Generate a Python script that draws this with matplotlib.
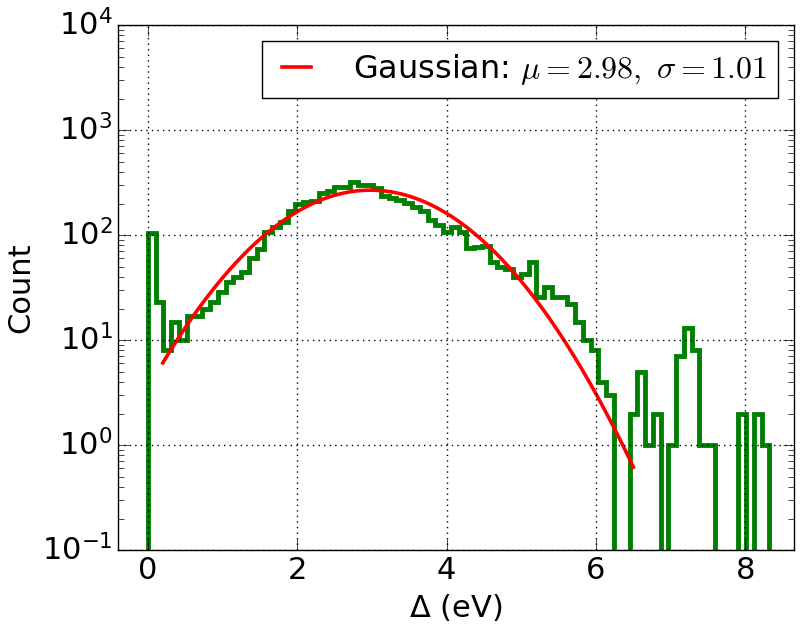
import numpy as np
import matplotlib
matplotlib.use("Agg")
import matplotlib.pyplot as plt

# Histogram data (80 bins from 0 to 8.32 eV)
bin_lo = 0.0
bin_hi = 8.32
counts = [105, 23, 8, 15, 10, 17, 17, 20, 23, 29,
          36, 40, 45, 60, 73, 107, 120, 134, 170, 198,
          205, 212, 250, 264, 285, 288, 320, 300, 302, 278,
          238, 228, 217, 204, 186, 170, 140, 125, 108, 120,
          108, 75, 77, 79, 56, 50, 48, 40, 43, 56,
          26, 32, 26, 26, 22, 15, 10, 8, 4, 3,
          0, 0, 2, 5, 1, 2, 0, 1, 7, 13,
          8, 1, 1, 0, 0, 0, 2, 0, 2, 1]

# Gaussian fit parameters (from legend) and amplitude
mu = 2.98
sigma = 1.01
amplitude = 268
fit_x_range = [0.2, 6.5]

plt.style.use('classic')
plt.rcParams['mathtext.fontset'] = 'cm'

fig = plt.figure(figsize=(8, 6.28), dpi=100, facecolor='white')
ax = fig.add_axes([0.1475, 0.124, 0.845, 0.836])

edges = np.linspace(bin_lo, bin_hi, len(counts) + 1)
ax.stairs(counts, edges, baseline=0, color='g', linewidth=3.5, fill=False)

xf = np.linspace(fit_x_range[0], fit_x_range[1], 300)
yf = amplitude * np.exp(-(xf - mu) ** 2 / (2 * sigma ** 2))
ax.plot(xf, yf, color='r', linewidth=2.6,
        label=r'Gaussian: $\mu=%.2f,\ \sigma=%.2f$' % (mu, sigma))

ax.set_yscale('log')
ax.set_ylim(0.1, 1e4)
ax.set_xlim(-0.4, 8.65)
ax.set_xticks([0, 2, 4, 6, 8])
ax.grid(True, linestyle=':', color='black', linewidth=1)
ax.tick_params(labelsize=22, which='both')
ax.tick_params(which='major', length=8)
ax.tick_params(which='minor', length=4)
ax.set_xlabel(r'$\Delta$ (eV)', fontsize=22)
ax.set_ylabel('Count', fontsize=22)
ax.xaxis.label.set_math_fontfamily('dejavusans')

leg = ax.legend(loc='upper right', fontsize=23, handlelength=1.5,
                handletextpad=1.0, borderpad=0.35, frameon=True,
                fancybox=False)
leg.get_frame().set_edgecolor('black')

fig.savefig('out.png', dpi=100, facecolor='white')
